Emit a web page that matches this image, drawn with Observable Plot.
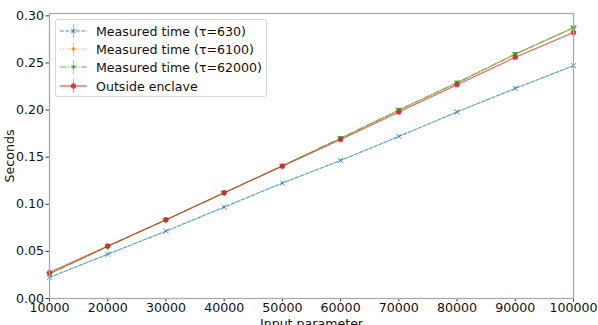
<!DOCTYPE html>
<html><head><meta charset="utf-8">
<script src="https://cdn.jsdelivr.net/npm/d3@7"></script>
<script src="https://cdn.jsdelivr.net/npm/@observablehq/plot@0.6"></script>
<style>
body{margin:0;background:#fff;font-family:"DejaVu Sans",sans-serif;}
#wrap{position:relative;width:598px;height:325px;overflow:hidden;background:#fff}
#legend{position:absolute;left:55px;top:19px;width:212px;height:78px;box-sizing:border-box;border:1px solid #d6d6d6;border-radius:3px;background:rgba(255,255,255,0.85);font-family:"DejaVu Sans",sans-serif;font-size:12.6px;color:#111}
#legend .row{position:absolute;left:4px;height:18px;display:flex;align-items:center}
#legend .row span{margin-left:9px;white-space:nowrap}
</style></head><body><div id="wrap"></div>
<script>
const inputs = [10000,20000,30000,40000,50000,60000,70000,80000,90000,100000];
const tau630   = [0.0224,0.0470,0.0715,0.0970,0.1225,0.1465,0.1720,0.1980,0.2230,0.2471];
const tau6100  = [0.0262,0.0553,0.0835,0.1120,0.1408,0.1698,0.1995,0.2285,0.2590,0.2870];
const tau62000 = [0.0260,0.0552,0.0834,0.1122,0.1410,0.1702,0.2002,0.2292,0.2595,0.2877];
const outside  = [0.0275,0.0557,0.0837,0.1123,0.1405,0.1687,0.1980,0.2270,0.2560,0.2824];
const errs     = [0.0006,0.0008,0.0008,0.0010,0.0010,0.0012,0.0012,0.0014,0.0014,0.0016];
const seriesNames = ["Measured time (τ=630)","Measured time (τ=6100)","Measured time (τ=62000)","Outside enclave"];
const colors = ["#1f77b4","#ff7f0e","#2ca02c","#d62728"];
const dashes = ["3.7,1.6","1,1.65","6.4,1.6,1,1.6",null];
const xTicks = [10000,20000,30000,40000,50000,60000,70000,80000,90000,100000];
const yTicks = [0,0.05,0.10,0.15,0.20,0.25,0.30];

const allVals = [tau630,tau6100,tau62000,outside];
const rows = [];
allVals.forEach((vals,si)=>vals.forEach((v,i)=>rows.push({s:si,x:inputs[i],y:v,e:errs[i]})));

const marks = [];
seriesNames.forEach((name,si)=>{
  const d = rows.filter(r=>r.s===si);
  marks.push(Plot.line(d,{x:"x",y:"y",stroke:colors[si],strokeWidth:1.1,strokeOpacity:0.75,strokeDasharray:dashes[si]}));
  marks.push(Plot.ruleX(d,{x:"x",y1:r=>r.y-r.e,y2:r=>r.y+r.e,stroke:colors[si],strokeOpacity:0.6,strokeWidth:1}));
  if (si===2) {
    marks.push(Plot.dot(d,{x:"x",y:"y",symbol:"triangle",r:2.6,fill:colors[si],fillOpacity:0.8,stroke:"none",rotate:180}));
  } else if (si===0) {
    marks.push(Plot.dot(d,{x:"x",y:"y",symbol:"times",r:2.4,stroke:colors[si],strokeOpacity:0.8,strokeWidth:1}));
  } else if (si===1) {
    marks.push(Plot.dot(d,{x:"x",y:"y",r:1.6,fill:colors[si],fillOpacity:0.8,stroke:"none"}));
  } else {
    marks.push(Plot.dot(d,{x:"x",y:"y",r:2.7,fill:colors[si],fillOpacity:0.85,stroke:"none"}));
  }
});

const plot = Plot.plot({
  width:598, height:325,
  marginLeft:49, marginRight:25, marginTop:13, marginBottom:27,
  style:{fontSize:"12.6px",fontFamily:"DejaVu Sans, sans-serif",color:"#111",background:"#fff"},
  x:{domain:[10000,100000]},
  y:{domain:[0,0.3025]},
  marks:[
    Plot.axisX({ticks:xTicks,tickFormat:d=>String(d),tickSize:3.5,tickPadding:1.5,label:"Input parameter",labelAnchor:"center",labelArrow:"none",labelOffset:29,stroke:"#333"}),
    Plot.axisY({ticks:yTicks,tickFormat:d3.format(".2f"),tickSize:3.5,tickPadding:2,label:"Seconds",labelAnchor:"center",labelArrow:"none",labelOffset:44,stroke:"#333"}),
    ...marks,
    Plot.frame({stroke:"#aaa",strokeWidth:1.3})
  ]
});
const wrap = document.getElementById("wrap");
wrap.appendChild(plot);

const leg = document.createElement("div");
leg.id="legend";
const rowTops=[2,20,38,57];
seriesNames.forEach((name,si)=>{
  const row=document.createElement("div");
  row.className="row"; row.style.top=rowTops[si]+"px";
  const svg = d3.create("svg").attr("width",27).attr("height",18);
  svg.append("line").attr("x1",0).attr("x2",27).attr("y1",9).attr("y2",9).attr("stroke",colors[si]).attr("stroke-opacity",0.8).attr("stroke-width",1.2).attr("stroke-dasharray",dashes[si]);
  svg.append("line").attr("x1",13.5).attr("x2",13.5).attr("y1",2).attr("y2",16).attr("stroke",colors[si]).attr("stroke-opacity",0.5).attr("stroke-width",1);
  if(si===0){svg.append("path").attr("d","M11.5,7L15.5,11M15.5,7L11.5,11").attr("stroke",colors[si]).attr("stroke-width",1);}
  else if(si===2){svg.append("path").attr("d","M11,7.5L16,7.5L13.5,11.5Z").attr("fill",colors[si]).attr("fill-opacity",0.8);}
  else {svg.append("circle").attr("cx",13.5).attr("cy",9).attr("r",si===3?2.7:1.8).attr("fill",colors[si]).attr("fill-opacity",0.85);}
  row.appendChild(svg.node());
  const sp=document.createElement("span"); sp.textContent=name; row.appendChild(sp);
  leg.appendChild(row);
});
wrap.appendChild(leg);
</script></body></html>
